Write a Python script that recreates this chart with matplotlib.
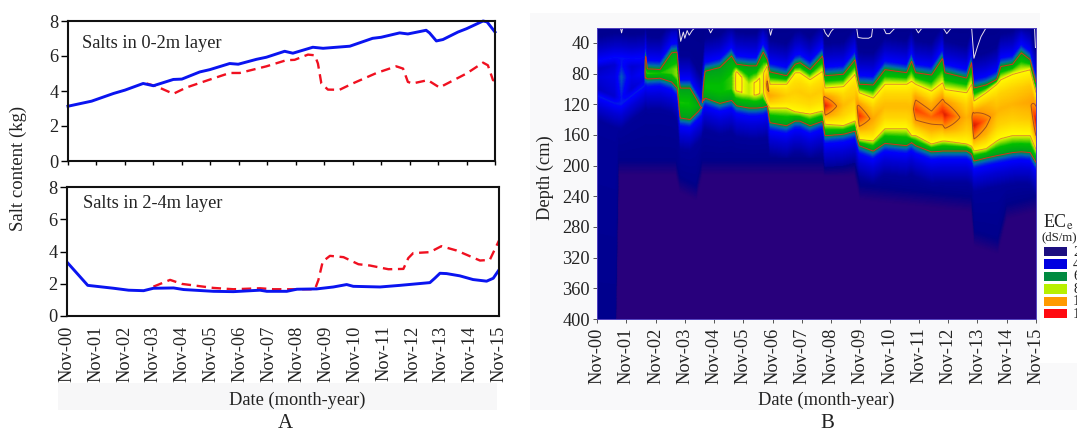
import matplotlib
matplotlib.use('Agg')
import matplotlib.pyplot as plt
import numpy as np
from matplotlib.colors import LinearSegmentedColormap, Normalize
from matplotlib.patches import Rectangle

plt.rcParams['font.family'] = ['Liberation Serif', 'DejaVu Serif']
plt.rcParams['mathtext.fontset'] = 'stix'

W, H = 1077, 432
FS = 13.2

tick_labels = ['Nov-%02d' % y for y in range(16)]

# Panel A, upper layer (years since Nov-00, kg)
upper_t = [0, .83, 1.6, 2.0, 2.64, 3.0, 3.7, 4.0, 4.63, 4.98, 5.68, 5.98, 6.62, 6.97, 7.61, 7.9,
           8.6, 8.96, 9.9, 10.7, 11.0, 11.65, 11.94, 12.58, 12.7, 12.94, 13.17, 13.7, 14.0, 14.58,
           14.72, 15]
upper_blue = [3.13, 3.42, 3.86, 4.05, 4.43, 4.3, 4.66, 4.68, 5.09, 5.22, 5.57, 5.53, 5.81, 5.93, 6.27, 6.16,
              6.5, 6.44, 6.56, 7.01, 7.07, 7.32, 7.26, 7.47, 7.32, 6.86, 6.94, 7.37, 7.56, 8.0,
              7.95, 7.37]
upper_red_t = [2.76, 3.1, 3.7, 4.16, 4.92, 5.68, 6.03, 6.97, 7.67, 7.96, 8.43, 8.67, 8.78, 8.9, 9.13, 9.54,
               10.0, 10.84, 11.53, 11.77, 11.94, 12.1, 12.64, 13.05, 14.0, 14.58, 14.75, 14.93, 15]
upper_red = [4.43, 4.27, 3.84, 4.2, 4.62, 5.03, 5.03, 5.41, 5.76, 5.78, 6.08, 6.04, 5.57, 4.43, 4.08, 4.07,
             4.43, 5.03, 5.41, 5.28, 4.52, 4.43, 4.62, 4.2, 5.0, 5.62, 5.47, 4.62, 4.6]

# Panel A, lower layer
lower_t = [0, .72, 1.62, 2.14, 2.66, 3.0, 3.7, 4.05, 5.09, 5.78, 6.7, 6.94, 7.63, 7.98, 8.67, 9.25,
           9.71, 9.94, 10.87, 11.56, 12.6, 12.77, 12.95, 13.18, 13.64, 14.1, 14.57, 14.8, 15]
lower_blue = [3.34, 1.9, 1.72, 1.6, 1.57, 1.72, 1.74, 1.64, 1.53, 1.51, 1.6, 1.53, 1.53, 1.66, 1.68, 1.8,
              1.95, 1.84, 1.8, 1.9, 2.07, 2.34, 2.65, 2.63, 2.49, 2.26, 2.16, 2.34, 2.86]
lower_red_t = [3.0, 3.58, 3.99, 5.09, 5.78, 6.7, 7.17, 7.98, 8.61, 8.73, 8.88, 9.13, 9.6, 10.12, 10.52, 11.16,
               11.68, 11.85, 12.02, 12.6, 13.0, 13.53, 14.34, 14.68, 15]
lower_red = [1.82, 2.24, 1.99, 1.74, 1.66, 1.72, 1.66, 1.66, 1.66, 2.24, 3.38, 3.73, 3.65, 3.21, 3.13, 2.9,
             2.92, 3.59, 3.9, 3.96, 4.33, 4.06, 3.44, 3.48, 4.68]

# Panel B, read per time: depth of outer contour, inner contour, and peak ECe
band_t = [0, .6, .84, 1.2, 1.62, 1.67, 1.72, 2.15, 2.55, 2.74, 2.84, 3.18, 3.58, 3.62, 3.69, 4.2, 4.6,
          4.77, 5.2, 5.45, 5.68, 5.82, 5.91, 6.48, 6.77, 6.94, 7.28, 7.71, 7.79, 8.42, 8.82,
          8.96, 9.44, 9.84, 10.58, 10.75, 10.89, 11.43, 11.81, 11.89, 12.63, 12.8, 12.88, 13.3,
          13.66, 13.8, 14.2, 14.5, 14.8, 15]
top_outer = [75, 70, 70, 72, 70, 57, 74, 75, 53, 52, 99, 99, 125, 100, 77, 72, 57,
             68, 70, 70, 52, 62, 78, 83, 68, 66, 75, 57, 83, 81, 62,
             94, 95, 75, 79, 64, 79, 82, 60, 79, 86, 66, 99, 95,
             88, 71, 68, 53, 62, 92]
bot_outer = [100, 110, 112, 100, 88, 85, 87, 86, 91, 99, 138, 140, 125, 118, 112, 119, 115,
             122, 125, 125, 124, 122, 144, 148, 142, 142, 148, 142, 161, 159, 155,
             174, 181, 171, 174, 170, 174, 182, 181, 181, 181, 185, 194, 190,
             187, 186, 183, 182, 183, 196]
top_inner = [85, 85, 85, 85, 80, 75, 80, 80, 75, 75, 118, 118, 125, 105, 95, 95, 85,
             77, 95, 90, 80, 70, 94, 94, 79, 79, 88, 77, 99, 97, 81,
             105, 112, 94, 94, 90, 94, 103, 92, 101, 105, 94, 116, 105,
             94, 88, 81, 78, 75, 105]
bot_inner = [85, 85, 85, 85, 80, 78, 80, 80, 80, 85, 120, 122, 125, 108, 100, 105, 100,
             103, 108, 108, 105, 120, 125, 125, 130, 131, 133, 129, 146, 148, 142,
             166, 168, 152, 152, 161, 161, 172, 168, 168, 172, 175, 181, 178,
             168, 165, 161, 161, 161, 179]
peak_ec = [3.3, 3.6, 4.6, 3.6, 4.0, 6.8, 6.8, 6.6, 6.9, 7.3, 6.6, 6.5, 5.3, 5.3, 6.4, 6.4, 6.8,
           8.3, 7.6, 8.2, 7.8, 11.5, 10.5, 9.5, 9.5, 9.6, 9.6, 9.6, 12.5, 10, 9.7,
           12.2, 10.5, 10, 10, 10, 12, 11.5, 12.2, 12.5, 10.2, 10.6, 12.6, 11.4,
           10.2, 10.2, 10.2, 10.4, 10.6, 12.6]
# depth where the dark indigo starts
navy_t = [0, .65, .75, 2.7, 2.85, 3.4, 3.6, 8.8, 9.0, 12.8, 12.9, 13.7, 14.0, 15]
navy_to = [420, 420, 192, 192, 215, 225, 192, 192, 225, 240, 285, 295, 250, 240]

# white outline near the surface, nan separates the pieces
wisp_t = [.8, .84, .88, np.nan, 2.8, 2.86, 2.95, 3.0, 3.08, 3.15, 3.25, 3.35, np.nan, 3.8, 3.88, 3.98, np.nan,
          5.88, 5.93, 6.0, np.nan, 7.73, 7.8, 7.9, 8.0, 8.12, np.nan, 8.87, 8.92, 9.08, 9.28, 9.38, 9.42, np.nan,
          9.78, 9.88, 10.0, 10.2, np.nan, 10.87, 10.98, 11.12, np.nan, 11.82, 11.95, 12.12, np.nan,
          12.8, 12.88, 13.0, 13.12, 13.3, np.nan, 14.95, 14.98, 15]
wisp_d = [20, 27, 20, np.nan, 20, 38, 26, 34, 24, 30, 24, 20, np.nan, 20, 27, 20, np.nan,
          20, 30, 20, np.nan, 20, 27, 32, 25, 20, np.nan, 20, 33, 34, 34, 32, 20, np.nan,
          20, 28, 28, 20, np.nan, 20, 27, 20, np.nan, 20, 28, 20, np.nan,
          20, 60, 45, 32, 20, np.nan, 20, 46, 46]

legend_labels = ['2', '4', '6', '8', '10', '12']
legend_colors = ['#1c0f80', '#0000e0', '#008a40', '#b8f000', '#ff9a00', '#ff0a10']

fig = plt.figure(figsize=(W / 100, H / 100), dpi=100)


def add_ax(x0, y0, x1, y1):
    return fig.add_axes([x0 / W, 1 - y1 / H, (x1 - x0) / W, (y1 - y0) / H])


def px_text(x, y, s, **kw):
    kw.setdefault('ha', 'center')
    kw.setdefault('va', 'center')
    kw.setdefault('fontsize', FS)
    kw.setdefault('color', '#222222')
    fig.text(x / W, 1 - y / H, s, **kw)


def px_rect(x0, y0, x1, y1, color, zorder=-5):
    fig.add_artist(Rectangle((x0 / W, 1 - y1 / H), (x1 - x0) / W, (y1 - y0) / H, transform=fig.transFigure,
                             facecolor=color, edgecolor='none', zorder=zorder))


# faint paper patches left over around the panels
px_rect(58, 383, 497, 410, '#f7f7f8')
px_rect(530, 13, 1040, 410, '#f9f9fa')
px_rect(1040, 363, 1077, 410, '#f9f9fa')

# Panel A
ax1 = add_ax(68, 21, 495, 161)
ax2 = add_ax(67, 187, 499, 316)
ax1.plot(upper_red_t, upper_red, color='#f01020', lw=1.7, ls=(0, (4, 2.4)))
ax1.plot(upper_t, upper_blue, color='#0a14f0', lw=2.1, clip_on=False)
ax2.plot(lower_red_t, lower_red, color='#f01020', lw=1.7, ls=(0, (4, 2.4)))
ax2.plot(lower_t, lower_blue, color='#0a14f0', lw=2.1)
for ax in (ax1, ax2):
    ax.set_xlim(0, 15)
    ax.set_ylim(0, 8)
    ax.set_yticks([0, 2, 4, 6, 8])
    ax.set_xticks(range(16))
    ax.tick_params(axis='y', labelsize=FS, length=5, width=1, pad=2, labelcolor='#222222')
    ax.tick_params(axis='x', length=3, width=1)
    for s in ax.spines.values():
        s.set_linewidth(1.5)
        s.set_color('#111111')
ax1.set_xticklabels([])
ax2.tick_params(axis='x', length=0, pad=7)
ax2.set_xticklabels(tick_labels, rotation=90, fontsize=FS, color='#222222')
px_text(82, 43, 'Salts in 0-2m layer', ha='left')
px_text(83, 203, 'Salts in 2-4m layer', ha='left')
px_text(18, 168, 'Salt content (kg)', rotation=90, fontsize=13.5)
px_text(297, 400, 'Date (month-year)')
px_text(285, 424, 'A', fontsize=15)

# Panel B: build the depth profile for each time from the values read above
ax3 = add_ax(597, 27.5, 1036, 319)
grid_t = np.linspace(0, 15, 901)
grid_d = np.arange(20, 401, 1.0)
field = np.zeros((len(grid_d), len(grid_t)))
for i, t in enumerate(grid_t):
    top = np.interp(t, band_t, top_outer)
    bot = np.interp(t, band_t, bot_outer)
    ti = max(np.interp(t, band_t, top_inner), top + 1)
    bi = max(np.interp(t, band_t, bot_inner), ti + .5)
    pk = np.interp(t, band_t, peak_ec)
    navy = np.interp(t, navy_t, navy_to)
    mid = (ti + bi) / 2
    q1, q3 = (ti + mid) / 2, (mid + bi) / 2
    inner = min(8, pk)
    shoulder = inner + .65 * (pk - inner)
    edge = min(5.2, pk - .4)
    ds = [20, top - 42, top - 26, top - 10, top, ti, q1, mid, q3, bi, bot, bot + 9, bot + 24, bot + 42,
          navy, navy + 25, 420]
    vs = [2.1, 2.2, 3.0, 4.1, edge, inner, shoulder, pk, shoulder, inner, edge, 4.2, 3.2, 2.3, 2.08, 1.5, 1.5]
    ds = np.maximum.accumulate(ds) + np.arange(len(ds)) * 1e-3
    field[:, i] = np.interp(grid_d, ds, vs)

ec_cmap = LinearSegmentedColormap.from_list('ec', [
    (0 / 13, '#28007c'), (1.6 / 13, '#28007c'), (2.05 / 13, '#00008a'), (3 / 13, '#0000c8'),
    (4 / 13, '#0000ff'), (4.7 / 13, '#0070b0'), (5.2 / 13, '#00a020'), (6.5 / 13, '#00c000'),
    (7.3 / 13, '#90e000'), (8 / 13, '#ffff00'), (9.5 / 13, '#ffd000'), (11 / 13, '#ff9800'),
    (12 / 13, '#ff4000'), (13 / 13, '#c00000')])
ax3.pcolormesh(grid_t, grid_d, field, cmap=ec_cmap, norm=Normalize(0, 13), shading='gouraud')
ax3.contour(grid_t, grid_d, field, levels=[5.2], colors='#d8301a', linewidths=.7)
ax3.contour(grid_t, grid_d, field, levels=[8], colors='#e09028', linewidths=.7)
ax3.contour(grid_t, grid_d, field, levels=[10.9], colors='#a8501a', linewidths=.7)
ax3.plot(wisp_t, wisp_d, color='#e8dff0', lw=.7)
ax3.set_xlim(0, 15)
ax3.set_ylim(400, 20)
ax3.set_yticks(range(40, 401, 40))
ax3.set_xticks(range(16))
ax3.set_xticklabels(tick_labels, rotation=90, fontsize=FS, color='#222222')
ax3.tick_params(axis='y', labelsize=FS, length=3, width=.7, pad=2, labelcolor='#222222', color='#555555')
ax3.tick_params(axis='x', length=3, width=.7, pad=3, color='#555555')
for s in ax3.spines.values():
    s.set_linewidth(.7)
    s.set_color('#5040c0')
px_text(545, 178, 'Depth (cm)', rotation=90)
px_text(826, 400, 'Date (month-year)')
px_text(827, 423, 'B', fontsize=15)

# legend, the labels run off the right edge as in the source
px_text(1043, 222, r'EC$_{\mathrm{e}}$', ha='left', fontsize=13)
px_text(1042, 237, '(dS/m)', ha='left', fontsize=9.2)
for k, (lab, col) in enumerate(zip(legend_labels, legend_colors)):
    y0 = 247 + k * 12.4
    px_rect(1044, y0, 1067, y0 + 9.3, col, zorder=2)
    px_text(1073, y0 + 5, lab, ha='left', fontsize=10.5)

fig.savefig('out.png', dpi=100)
